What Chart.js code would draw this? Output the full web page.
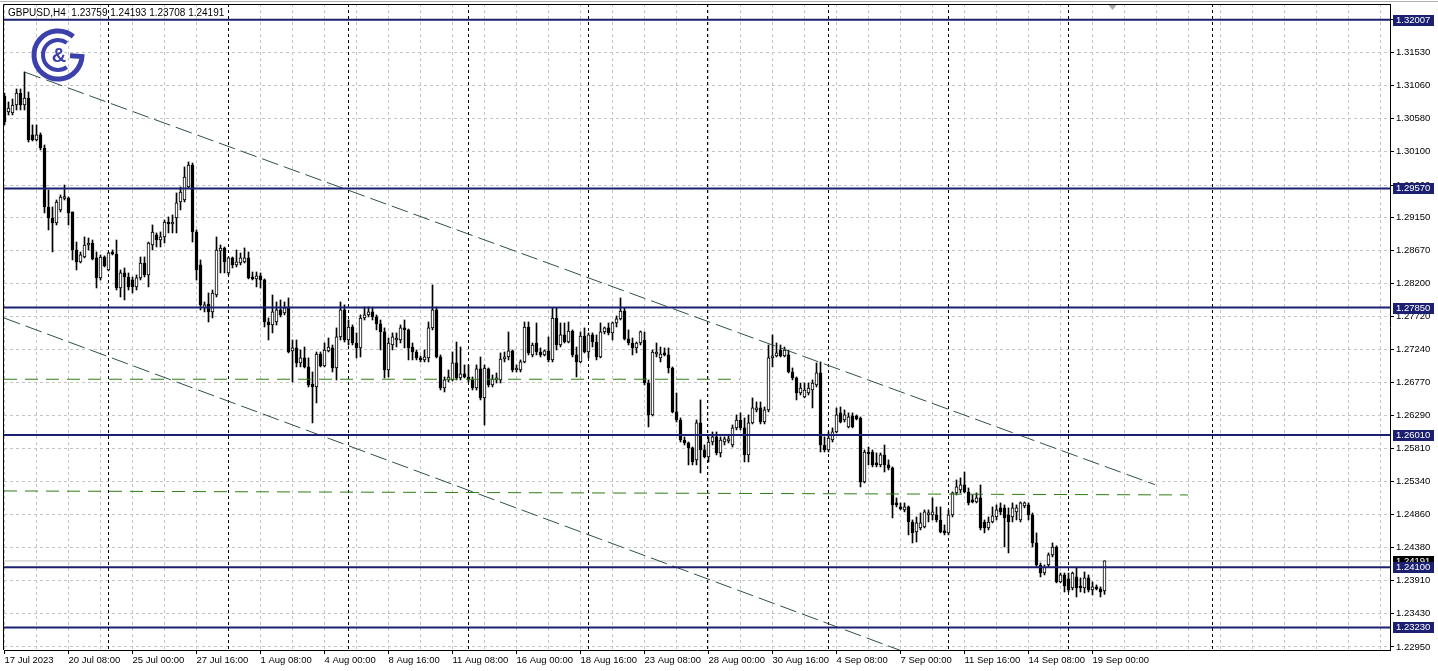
<!DOCTYPE html>
<html>
<head>
<meta charset="utf-8">
<script src="https://cdn.jsdelivr.net/npm/chart.js@4.4.1/dist/chart.umd.min.js"></script>
<style>
  html, body { margin: 0; padding: 0; background: #fff; }
  #wrap { position: relative; width: 1438px; height: 671px; }
</style>
</head>
<body>
<div id="wrap"><canvas id="chart"></canvas></div>
<script>
const symbolTitle = "GBPUSD,H4  1.23759 1.24193 1.23708 1.24191";

// H4 bars, 17 Jul 16:00 .. 19 Sep 12:00
const opens = [
  1.30905, 1.30675, 1.30661, 1.30776, 1.30949, 1.30776, 1.30876, 1.30343, 1.30270, 1.30343,
  1.30155, 1.29303, 1.29144, 1.29072, 1.29260, 1.29425, 1.29433, 1.29231, 1.28682, 1.28509,
  1.28581, 1.28754, 1.28783, 1.28567, 1.28278, 1.28581, 1.28393, 1.28639, 1.28624, 1.28133,
  1.28350, 1.28292, 1.28249, 1.28148, 1.28278, 1.28494, 1.28321, 1.28754, 1.28899, 1.28826,
  1.28870, 1.29086, 1.29057, 1.29144, 1.29375, 1.29404, 1.29591, 1.29909, 1.28942, 1.28466,
  1.27845, 1.27902, 1.27787, 1.28032, 1.28668, 1.28711, 1.28350, 1.28567, 1.28466, 1.28494,
  1.28509, 1.28567, 1.28292, 1.28264, 1.28307, 1.28249, 1.27642, 1.27599, 1.27642, 1.27816,
  1.27773, 1.27859, 1.27224, 1.27267, 1.27051, 1.27123, 1.26993, 1.26747, 1.26704, 1.27180,
  1.27007, 1.27224, 1.27267, 1.26978, 1.27426, 1.27816, 1.27382, 1.27570, 1.27339, 1.27267,
  1.27700, 1.27744, 1.27787, 1.27715, 1.27614, 1.27498, 1.26949, 1.27310, 1.27382, 1.27382,
  1.27556, 1.27527, 1.27281, 1.27209, 1.27123, 1.27094, 1.27123, 1.27556, 1.27816, 1.27137,
  1.26689, 1.26805, 1.26805, 1.27051, 1.26834, 1.26892, 1.26848, 1.26805, 1.26689, 1.26964,
  1.26545, 1.26964, 1.26733, 1.26805, 1.26805, 1.27108, 1.27137, 1.27224, 1.26949, 1.26949,
  1.27065, 1.27570, 1.27166, 1.27339, 1.27209, 1.27166, 1.27224, 1.27094, 1.27700, 1.27310,
  1.27455, 1.27353, 1.27512, 1.27166, 1.27065, 1.27440, 1.27209, 1.27455, 1.27353, 1.27137,
  1.27498, 1.27556, 1.27484, 1.27628, 1.27686, 1.27801, 1.27397, 1.27339, 1.27267, 1.27339,
  1.27382, 1.26761, 1.26300, 1.27180, 1.27123, 1.27195, 1.27166, 1.26978, 1.26343, 1.26227,
  1.25938, 1.25895, 1.25823, 1.25650, 1.26184, 1.25794, 1.25693, 1.25909, 1.25982, 1.25751,
  1.25909, 1.25924, 1.25866, 1.26112, 1.26227, 1.26112, 1.25722, 1.26184, 1.26372, 1.26401,
  1.26198, 1.26372, 1.27123, 1.27151, 1.27238, 1.27151, 1.27166, 1.26920, 1.26834, 1.26617,
  1.26559, 1.26617, 1.26660, 1.26733, 1.26906, 1.25866, 1.25794, 1.25938, 1.26054, 1.26329,
  1.26227, 1.26126, 1.26285, 1.26285, 1.26256, 1.25332, 1.25751, 1.25765, 1.25606, 1.25578,
  1.25722, 1.25578, 1.25534, 1.25029, 1.24957, 1.24928, 1.24971, 1.24754, 1.24610, 1.24668,
  1.24682, 1.24856, 1.24856, 1.24856, 1.24783, 1.24610, 1.24596, 1.24856, 1.25173, 1.25216,
  1.25289, 1.25187, 1.25072, 1.25043, 1.25101, 1.24754, 1.24668, 1.24754, 1.24826, 1.24957,
  1.24957, 1.24856, 1.24826, 1.24899, 1.24783, 1.24985, 1.25000, 1.24856, 1.24451, 1.24133,
  1.24017, 1.24133, 1.24278, 1.24393, 1.23888, 1.23989, 1.23931, 1.23801, 1.23960, 1.23816,
  1.23801, 1.23946, 1.23772, 1.23816, 1.23787, 1.23759
];
const highs = [
  1.30949, 1.30819, 1.30862, 1.31007, 1.31007, 1.31252, 1.30963, 1.30487, 1.30487, 1.30372,
  1.30198, 1.29548, 1.29303, 1.29404, 1.29476, 1.29620, 1.29447, 1.29231, 1.28797, 1.28653,
  1.28870, 1.28855, 1.28826, 1.28653, 1.28610, 1.28596, 1.28653, 1.28682, 1.28826, 1.28393,
  1.28422, 1.28350, 1.28292, 1.28321, 1.28581, 1.28581, 1.28797, 1.29043, 1.28928, 1.28942,
  1.29115, 1.29159, 1.29188, 1.29505, 1.29591, 1.29881, 1.29953, 1.29938, 1.28971, 1.28538,
  1.27931, 1.28061, 1.28104, 1.28870, 1.28754, 1.28725, 1.28581, 1.28581, 1.28682, 1.28639,
  1.28711, 1.28653, 1.28364, 1.28364, 1.28350, 1.28264, 1.27700, 1.28032, 1.27931, 1.27960,
  1.27931, 1.27989, 1.27382, 1.27382, 1.27238, 1.27281, 1.27123, 1.26920, 1.27209, 1.27209,
  1.27339, 1.27411, 1.27310, 1.27556, 1.27931, 1.27888, 1.27671, 1.27599, 1.27484, 1.27744,
  1.27859, 1.27859, 1.27845, 1.27744, 1.27671, 1.27556, 1.27411, 1.27484, 1.27484, 1.27599,
  1.27671, 1.27541, 1.27339, 1.27238, 1.27151, 1.27238, 1.27642, 1.28177, 1.27859, 1.27166,
  1.26848, 1.26949, 1.27209, 1.27353, 1.27281, 1.27022, 1.27022, 1.26848, 1.27022, 1.27137,
  1.27022, 1.26978, 1.26877, 1.26906, 1.27195, 1.27209, 1.27498, 1.27238, 1.27022, 1.27094,
  1.27642, 1.27642, 1.27339, 1.27628, 1.27267, 1.27238, 1.27426, 1.27845, 1.27845, 1.27628,
  1.27628, 1.27642, 1.27527, 1.27281, 1.27498, 1.27556, 1.27484, 1.27484, 1.27455, 1.27628,
  1.27570, 1.27628, 1.27642, 1.27729, 1.27989, 1.27845, 1.27527, 1.27411, 1.27353, 1.27512,
  1.27498, 1.26805, 1.27238, 1.27339, 1.27281, 1.27267, 1.27267, 1.26993, 1.26617, 1.26256,
  1.25982, 1.25909, 1.25837, 1.26227, 1.26516, 1.25866, 1.25982, 1.26054, 1.26054, 1.25982,
  1.25982, 1.25996, 1.26155, 1.26300, 1.26329, 1.26256, 1.26300, 1.26545, 1.26487, 1.26487,
  1.26415, 1.27310, 1.27455, 1.27339, 1.27310, 1.27281, 1.27238, 1.26978, 1.26848, 1.26761,
  1.26761, 1.26761, 1.26805, 1.27051, 1.27065, 1.25982, 1.26054, 1.26112, 1.26401, 1.26415,
  1.26372, 1.26329, 1.26329, 1.26300, 1.26271, 1.25794, 1.25837, 1.25794, 1.25751, 1.25751,
  1.25866, 1.25650, 1.25549, 1.25101, 1.25029, 1.25029, 1.24985, 1.24783, 1.24826, 1.24884,
  1.24928, 1.24928, 1.25101, 1.24971, 1.24971, 1.24711, 1.24928, 1.25187, 1.25361, 1.25390,
  1.25476, 1.25245, 1.25144, 1.25173, 1.25289, 1.24783, 1.24826, 1.24971, 1.25000, 1.25029,
  1.25000, 1.24957, 1.25029, 1.25000, 1.25043, 1.25043, 1.25029, 1.24884, 1.24596, 1.24162,
  1.24133, 1.24307, 1.24451, 1.24410, 1.24017, 1.24017, 1.24017, 1.24032, 1.24090, 1.23946,
  1.24032, 1.23989, 1.23888, 1.23845, 1.23816, 1.24193
];
const lows = [
  1.30487, 1.30632, 1.30632, 1.30704, 1.30704, 1.30704, 1.30241, 1.30256, 1.30256, 1.30126,
  1.29217, 1.28971, 1.28653, 1.29043, 1.29231, 1.29404, 1.29043, 1.28538, 1.28393, 1.28494,
  1.28567, 1.28682, 1.28538, 1.28133, 1.28249, 1.28437, 1.28379, 1.28610, 1.28104, 1.28003,
  1.27960, 1.28104, 1.28061, 1.28104, 1.28249, 1.28292, 1.28148, 1.28682, 1.28725, 1.28725,
  1.28783, 1.28928, 1.28928, 1.28928, 1.29260, 1.29375, 1.29577, 1.28797, 1.28249, 1.27816,
  1.27787, 1.27642, 1.27700, 1.28003, 1.28350, 1.28350, 1.28321, 1.28422, 1.28437, 1.28466,
  1.28494, 1.28264, 1.28249, 1.28148, 1.28133, 1.27570, 1.27382, 1.27484, 1.27599, 1.27715,
  1.27744, 1.27195, 1.26776, 1.26993, 1.26993, 1.26978, 1.26704, 1.26184, 1.26473, 1.26993,
  1.26993, 1.27209, 1.26920, 1.26805, 1.27382, 1.27353, 1.27310, 1.27310, 1.27123, 1.27137,
  1.27671, 1.27715, 1.27671, 1.27527, 1.27238, 1.26834, 1.26848, 1.27238, 1.27281, 1.27339,
  1.27267, 1.27094, 1.27094, 1.27094, 1.27065, 1.27065, 1.27065, 1.27527, 1.27123, 1.26660,
  1.26631, 1.26776, 1.26790, 1.26805, 1.26805, 1.26834, 1.26776, 1.26660, 1.26660, 1.26516,
  1.26155, 1.26704, 1.26704, 1.26761, 1.26761, 1.27065, 1.27094, 1.26920, 1.26920, 1.26920,
  1.27051, 1.27166, 1.27137, 1.27166, 1.27137, 1.27151, 1.27065, 1.27065, 1.27238, 1.27281,
  1.27339, 1.27339, 1.27137, 1.26848, 1.27051, 1.27195, 1.27123, 1.27281, 1.27094, 1.27123,
  1.27469, 1.27455, 1.27382, 1.27570, 1.27671, 1.27382, 1.27310, 1.27166, 1.27195, 1.27310,
  1.26733, 1.26126, 1.26285, 1.27137, 1.27065, 1.27151, 1.26906, 1.26329, 1.26198, 1.25909,
  1.25866, 1.25578, 1.25578, 1.25578, 1.25462, 1.25679, 1.25621, 1.25866, 1.25722, 1.25693,
  1.25866, 1.25895, 1.25837, 1.26083, 1.26083, 1.25621, 1.25621, 1.26170, 1.26343, 1.26170,
  1.26170, 1.26343, 1.26993, 1.27137, 1.27137, 1.27137, 1.26906, 1.26805, 1.26516, 1.26588,
  1.26545, 1.26588, 1.26401, 1.26704, 1.25765, 1.25765, 1.25765, 1.25909, 1.26040, 1.26184,
  1.26198, 1.26112, 1.26112, 1.26227, 1.25260, 1.25318, 1.25578, 1.25549, 1.25549, 1.25549,
  1.25476, 1.25505, 1.24812, 1.24971, 1.24928, 1.24899, 1.24567, 1.24451, 1.24465, 1.24639,
  1.24668, 1.24754, 1.24783, 1.24754, 1.24596, 1.24567, 1.24567, 1.24826, 1.25144, 1.25173,
  1.25173, 1.25000, 1.25029, 1.25029, 1.24639, 1.24596, 1.24639, 1.24740, 1.24783, 1.24856,
  1.24393, 1.24307, 1.24754, 1.24783, 1.24754, 1.24957, 1.24783, 1.24393, 1.24104, 1.23960,
  1.23989, 1.24104, 1.24249, 1.23874, 1.23874, 1.23743, 1.23743, 1.23772, 1.23671, 1.23743,
  1.23729, 1.23743, 1.23700, 1.23772, 1.23671, 1.23708
];
const closes = [
  1.30530, 1.30732, 1.30776, 1.30949, 1.30776, 1.30876, 1.30270, 1.30270, 1.30343, 1.30155,
  1.29303, 1.29144, 1.29072, 1.29375, 1.29447, 1.29447, 1.29217, 1.28682, 1.28509, 1.28610,
  1.28754, 1.28783, 1.28552, 1.28278, 1.28581, 1.28451, 1.28639, 1.28624, 1.28133, 1.28350,
  1.28292, 1.28148, 1.28148, 1.28278, 1.28494, 1.28321, 1.28783, 1.28942, 1.28826, 1.28870,
  1.29086, 1.29057, 1.29086, 1.29361, 1.29519, 1.29736, 1.29909, 1.28942, 1.28393, 1.27888,
  1.27888, 1.27787, 1.28061, 1.28682, 1.28711, 1.28509, 1.28567, 1.28466, 1.28509, 1.28567,
  1.28567, 1.28278, 1.28264, 1.28307, 1.28249, 1.27642, 1.27599, 1.27787, 1.27816, 1.27744,
  1.27845, 1.27209, 1.27267, 1.27051, 1.27123, 1.26993, 1.26733, 1.26704, 1.27180, 1.27007,
  1.27238, 1.27281, 1.26978, 1.27426, 1.27816, 1.27382, 1.27570, 1.27339, 1.27267, 1.27700,
  1.27744, 1.27787, 1.27715, 1.27614, 1.27498, 1.26949, 1.27339, 1.27426, 1.27411, 1.27556,
  1.27527, 1.27267, 1.27209, 1.27123, 1.27094, 1.27137, 1.27556, 1.27816, 1.27137, 1.26689,
  1.26805, 1.26848, 1.27051, 1.26834, 1.26892, 1.26848, 1.26805, 1.26689, 1.26964, 1.26545,
  1.26978, 1.26733, 1.26819, 1.26834, 1.27108, 1.27137, 1.27224, 1.26949, 1.26978, 1.27065,
  1.27570, 1.27195, 1.27310, 1.27209, 1.27166, 1.27224, 1.27094, 1.27700, 1.27310, 1.27455,
  1.27353, 1.27512, 1.27166, 1.27065, 1.27440, 1.27209, 1.27455, 1.27353, 1.27137, 1.27498,
  1.27556, 1.27484, 1.27628, 1.27686, 1.27801, 1.27397, 1.27339, 1.27267, 1.27339, 1.27498,
  1.26761, 1.26300, 1.27209, 1.27209, 1.27180, 1.27166, 1.26978, 1.26343, 1.26227, 1.25938,
  1.25895, 1.25823, 1.25621, 1.26184, 1.25794, 1.25693, 1.25909, 1.25982, 1.25751, 1.25938,
  1.25953, 1.25953, 1.26112, 1.26227, 1.26112, 1.25722, 1.26184, 1.26401, 1.26401, 1.26198,
  1.26372, 1.27123, 1.27151, 1.27195, 1.27151, 1.27238, 1.26920, 1.26834, 1.26617, 1.26689,
  1.26660, 1.26689, 1.26761, 1.26906, 1.25866, 1.25794, 1.25967, 1.26054, 1.26300, 1.26198,
  1.26300, 1.26271, 1.26126, 1.26242, 1.25332, 1.25765, 1.25736, 1.25578, 1.25578, 1.25722,
  1.25578, 1.25534, 1.25000, 1.25000, 1.24942, 1.24971, 1.24754, 1.24596, 1.24740, 1.24740,
  1.24899, 1.24884, 1.24899, 1.24783, 1.24610, 1.24596, 1.24856, 1.25173, 1.25260, 1.25289,
  1.25187, 1.25029, 1.25043, 1.25101, 1.24668, 1.24668, 1.24754, 1.24841, 1.24928, 1.24899,
  1.24812, 1.24754, 1.24957, 1.24957, 1.25029, 1.25029, 1.24856, 1.24451, 1.24133, 1.24017,
  1.24104, 1.24278, 1.24393, 1.23888, 1.23989, 1.23830, 1.23772, 1.24017, 1.23801, 1.23801,
  1.23946, 1.23772, 1.23816, 1.23787, 1.23743, 1.24191
];

// time axis labels (bar index -> text)
const xTickIdx = [0, 16, 32, 48, 64, 80, 96, 112, 128, 144, 160, 176, 192, 208, 224, 240, 256, 272];
const xTickText = [
  "17 Jul 2023", "20 Jul 08:00", "25 Jul 00:00", "27 Jul 16:00", "1 Aug 08:00", "4 Aug 00:00",
  "8 Aug 16:00", "11 Aug 08:00", "16 Aug 00:00", "18 Aug 16:00", "23 Aug 08:00", "28 Aug 00:00",
  "30 Aug 16:00", "4 Sep 08:00", "7 Sep 00:00", "11 Sep 16:00", "14 Sep 08:00", "19 Sep 00:00"
];
// price axis
const yTicks = [1.22950, 1.23430, 1.23910, 1.24380, 1.24860, 1.25340, 1.25810, 1.26290, 1.26770,
  1.27240, 1.27720, 1.28200, 1.28670, 1.29150, 1.29620, 1.30100, 1.30580, 1.31060, 1.31530, 1.32010];

// drawn objects
const levels = [1.32007, 1.29570, 1.27850, 1.26010, 1.24100, 1.23230];
const bidPrice = 1.24191;
const separators = [26, 56, 86, 116, 146, 176, 206, 236, 266, 302];
const upperTrend = [{ x: 5, y: 1.31252 }, { x: 287.6, y: 1.25293 }];
const lowerTrend = [{ x: -0.125, y: 1.27700 }, { x: 232, y: 1.22727 }];
const greenLevelA = [{ x: -0.125, y: 1.26815 }, { x: 183.9, y: 1.26815 }];
const greenLevelB = [{ x: -0.125, y: 1.25202 }, { x: 295.9, y: 1.25144 }];

const X_MIN = -0.125, X_MAX = 346.375;
const NAVY = "#1b2070";
const FONT = "Liberation Sans";

const gridIdx = [];
for (let v = 0; v <= 344; v += 8) gridIdx.push(v);

function labelAt(v) {
  const k = xTickIdx.indexOf(v);
  return k >= 0 ? xTickText[k] : "";
}

const bodies = opens.map((o, i) => ({ x: i, y: [o, closes[i]] }));
const wicks = lows.map((l, i) => ({ x: i, y: [l, highs[i]] }));
const bodyColors = opens.map((o, i) => (closes[i] >= o ? "#ffffff" : "#000000"));

function flatLine(v, color, width) {
  return {
    type: "line",
    data: [{ x: X_MIN, y: v }, { x: X_MAX, y: v }],
    borderColor: color,
    borderWidth: width,
    pointRadius: 0,
    order: 0
  };
}

function dashLine(pts, color, dash) {
  return {
    type: "line",
    data: pts,
    borderColor: color,
    borderWidth: 1,
    borderDash: dash,
    pointRadius: 0,
    order: 0
  };
}

// separators, logo, header, frame
const decorations = {
  id: "decorations",
  beforeDatasetsDraw(chart) {
    const { ctx, chartArea: a, scales: { x } } = chart;
    ctx.save();
    ctx.strokeStyle = "#000";
    ctx.lineWidth = 1;
    ctx.setLineDash([3, 3]);
    separators.forEach(idx => {
      const px = Math.round(x.getPixelForValue(idx)) - 0.5;
      ctx.beginPath();
      ctx.moveTo(px, a.top);
      ctx.lineTo(px, a.bottom);
      ctx.stroke();
    });
    ctx.setLineDash([]);

    // logo
    const cx = 58, cy = 55;
    ctx.strokeStyle = "#3c40aa";
    ctx.lineCap = "butt";
    ctx.lineWidth = 5;
    ctx.beginPath();
    ctx.arc(cx, cy, 24, -Math.PI * 0.28, Math.PI * 0.02, true);
    ctx.lineTo(cx + 12, cy + 0.7);
    ctx.stroke();
    ctx.lineWidth = 4;
    ctx.beginPath();
    ctx.arc(cx, cy, 15, -Math.PI * 0.3, Math.PI * 0.3, true);
    ctx.stroke();
    ctx.fillStyle = "#3c40aa";
    ctx.font = "bold 20px " + FONT;
    ctx.textAlign = "center";
    ctx.textBaseline = "middle";
    ctx.fillText("&", cx + 1, cy + 1);
    ctx.restore();
  },
  afterDraw(chart) {
    const { ctx, chartArea: a, scales: { x, y } } = chart;
    ctx.save();
    // frame
    ctx.strokeStyle = "#000";
    ctx.lineWidth = 1;
    ctx.beginPath();
    ctx.moveTo(3.5, a.bottom);
    ctx.lineTo(3.5, 4.5);
    ctx.lineTo(a.right, 4.5);
    ctx.stroke();
    ctx.strokeStyle = "#b0b0b0";
    ctx.beginPath();
    ctx.moveTo(0, 1.5);
    ctx.lineTo(1438, 1.5);
    ctx.stroke();

    // header
    ctx.fillStyle = "#000";
    ctx.font = "10px " + FONT;
    ctx.textAlign = "left";
    ctx.textBaseline = "middle";
    ctx.fillText(symbolTitle, 8, 13);

    // chart shift marker
    const sx = x.getPixelForValue(277);
    ctx.fillStyle = "#a8a8a8";
    ctx.beginPath();
    ctx.moveTo(sx - 4, 5);
    ctx.lineTo(sx + 4, 5);
    ctx.lineTo(sx, 10);
    ctx.closePath();
    ctx.fill();

    // price boxes on the axis
    ctx.font = "9.5px " + FONT;
    const box = (v, fill) => {
      const py = Math.round(y.getPixelForValue(v));
      ctx.fillStyle = fill;
      ctx.fillRect(a.right + 3, py - 5, 41, 11);
      ctx.fillStyle = "#fff";
      ctx.fillText(v.toFixed(5), a.right + 6, py + 0.5);
    };
    box(bidPrice, "#000");
    levels.forEach(v => box(v, NAVY));
    ctx.restore();
  }
};

new Chart(document.getElementById("chart"), {
  type: "bar",
  data: {
    datasets: [
      ...levels.map(v => flatLine(v, NAVY, 2)),
      dashLine(upperTrend, "#2f4f4f", [17, 6]),
      dashLine(lowerTrend, "#2f4f4f", [17, 6]),
      dashLine(greenLevelA, "#2f7d14", [13, 8]),
      dashLine(greenLevelB, "#2f7d14", [13, 8]),
      {
        type: "bar",
        data: bodies,
        barThickness: 3,
        borderWidth: 1,
        borderColor: "#000",
        backgroundColor: bodyColors,
        borderSkipped: false,
        minBarLength: 2,
        grouped: false,
        order: 1
      },
      {
        type: "bar",
        data: wicks,
        barThickness: 1,
        borderWidth: 0,
        backgroundColor: "#000",
        grouped: false,
        order: 2
      },
      Object.assign(flatLine(bidPrice, "#c0c0c0", 1), { order: 3 })
    ]
  },
  options: {
    animation: false,
    responsive: true,
    maintainAspectRatio: false,
    events: [],
    layout: { padding: { top: 4, left: 4, right: 0, bottom: 0 } },
    plugins: { legend: { display: false }, tooltip: { enabled: false } },
    scales: {
      x: {
        type: "linear",
        min: X_MIN,
        max: X_MAX,
        offset: false,
        afterBuildTicks: s => { s.ticks = gridIdx.map(v => ({ value: v })); },
        afterFit: s => {
          s.height = 21;
          s.paddingLeft = 0; s.paddingRight = 0;
        },
        grid: {
          color: "#c4c4c4",
          offset: false,
          drawTicks: true,
          tickLength: 4,
          tickColor: c => (labelAt(c.tick && c.tick.value) ? "#000" : "rgba(0,0,0,0)")
        },
        border: { display: true, color: "#000", width: 1, dash: [3, 3] },
        ticks: {
          autoSkip: false,
          maxRotation: 0,
          minRotation: 0,
          align: "start",
          padding: 1,
          color: "#000",
          font: { family: FONT, size: 9.5 },
          callback: v => labelAt(v)
        }
      },
      y: {
        type: "linear",
        position: "right",
        min: 1.22905,
        max: 1.32234,
        afterBuildTicks: s => { s.ticks = yTicks.map(v => ({ value: v })); },
        afterFit: s => {
          s.width = 48;
          s.paddingTop = 0; s.paddingBottom = 0;
        },
        grid: { color: "#c4c4c4", drawTicks: true, tickLength: 4, tickColor: "#000" },
        border: { display: true, color: "#000", width: 1, dash: [3, 3] },
        ticks: {
          padding: 2,
          color: "#000",
          font: { family: FONT, size: 9.5 },
          callback: v => v.toFixed(5)
        }
      }
    }
  },
  plugins: [decorations]
});
</script>
</body>
</html>
